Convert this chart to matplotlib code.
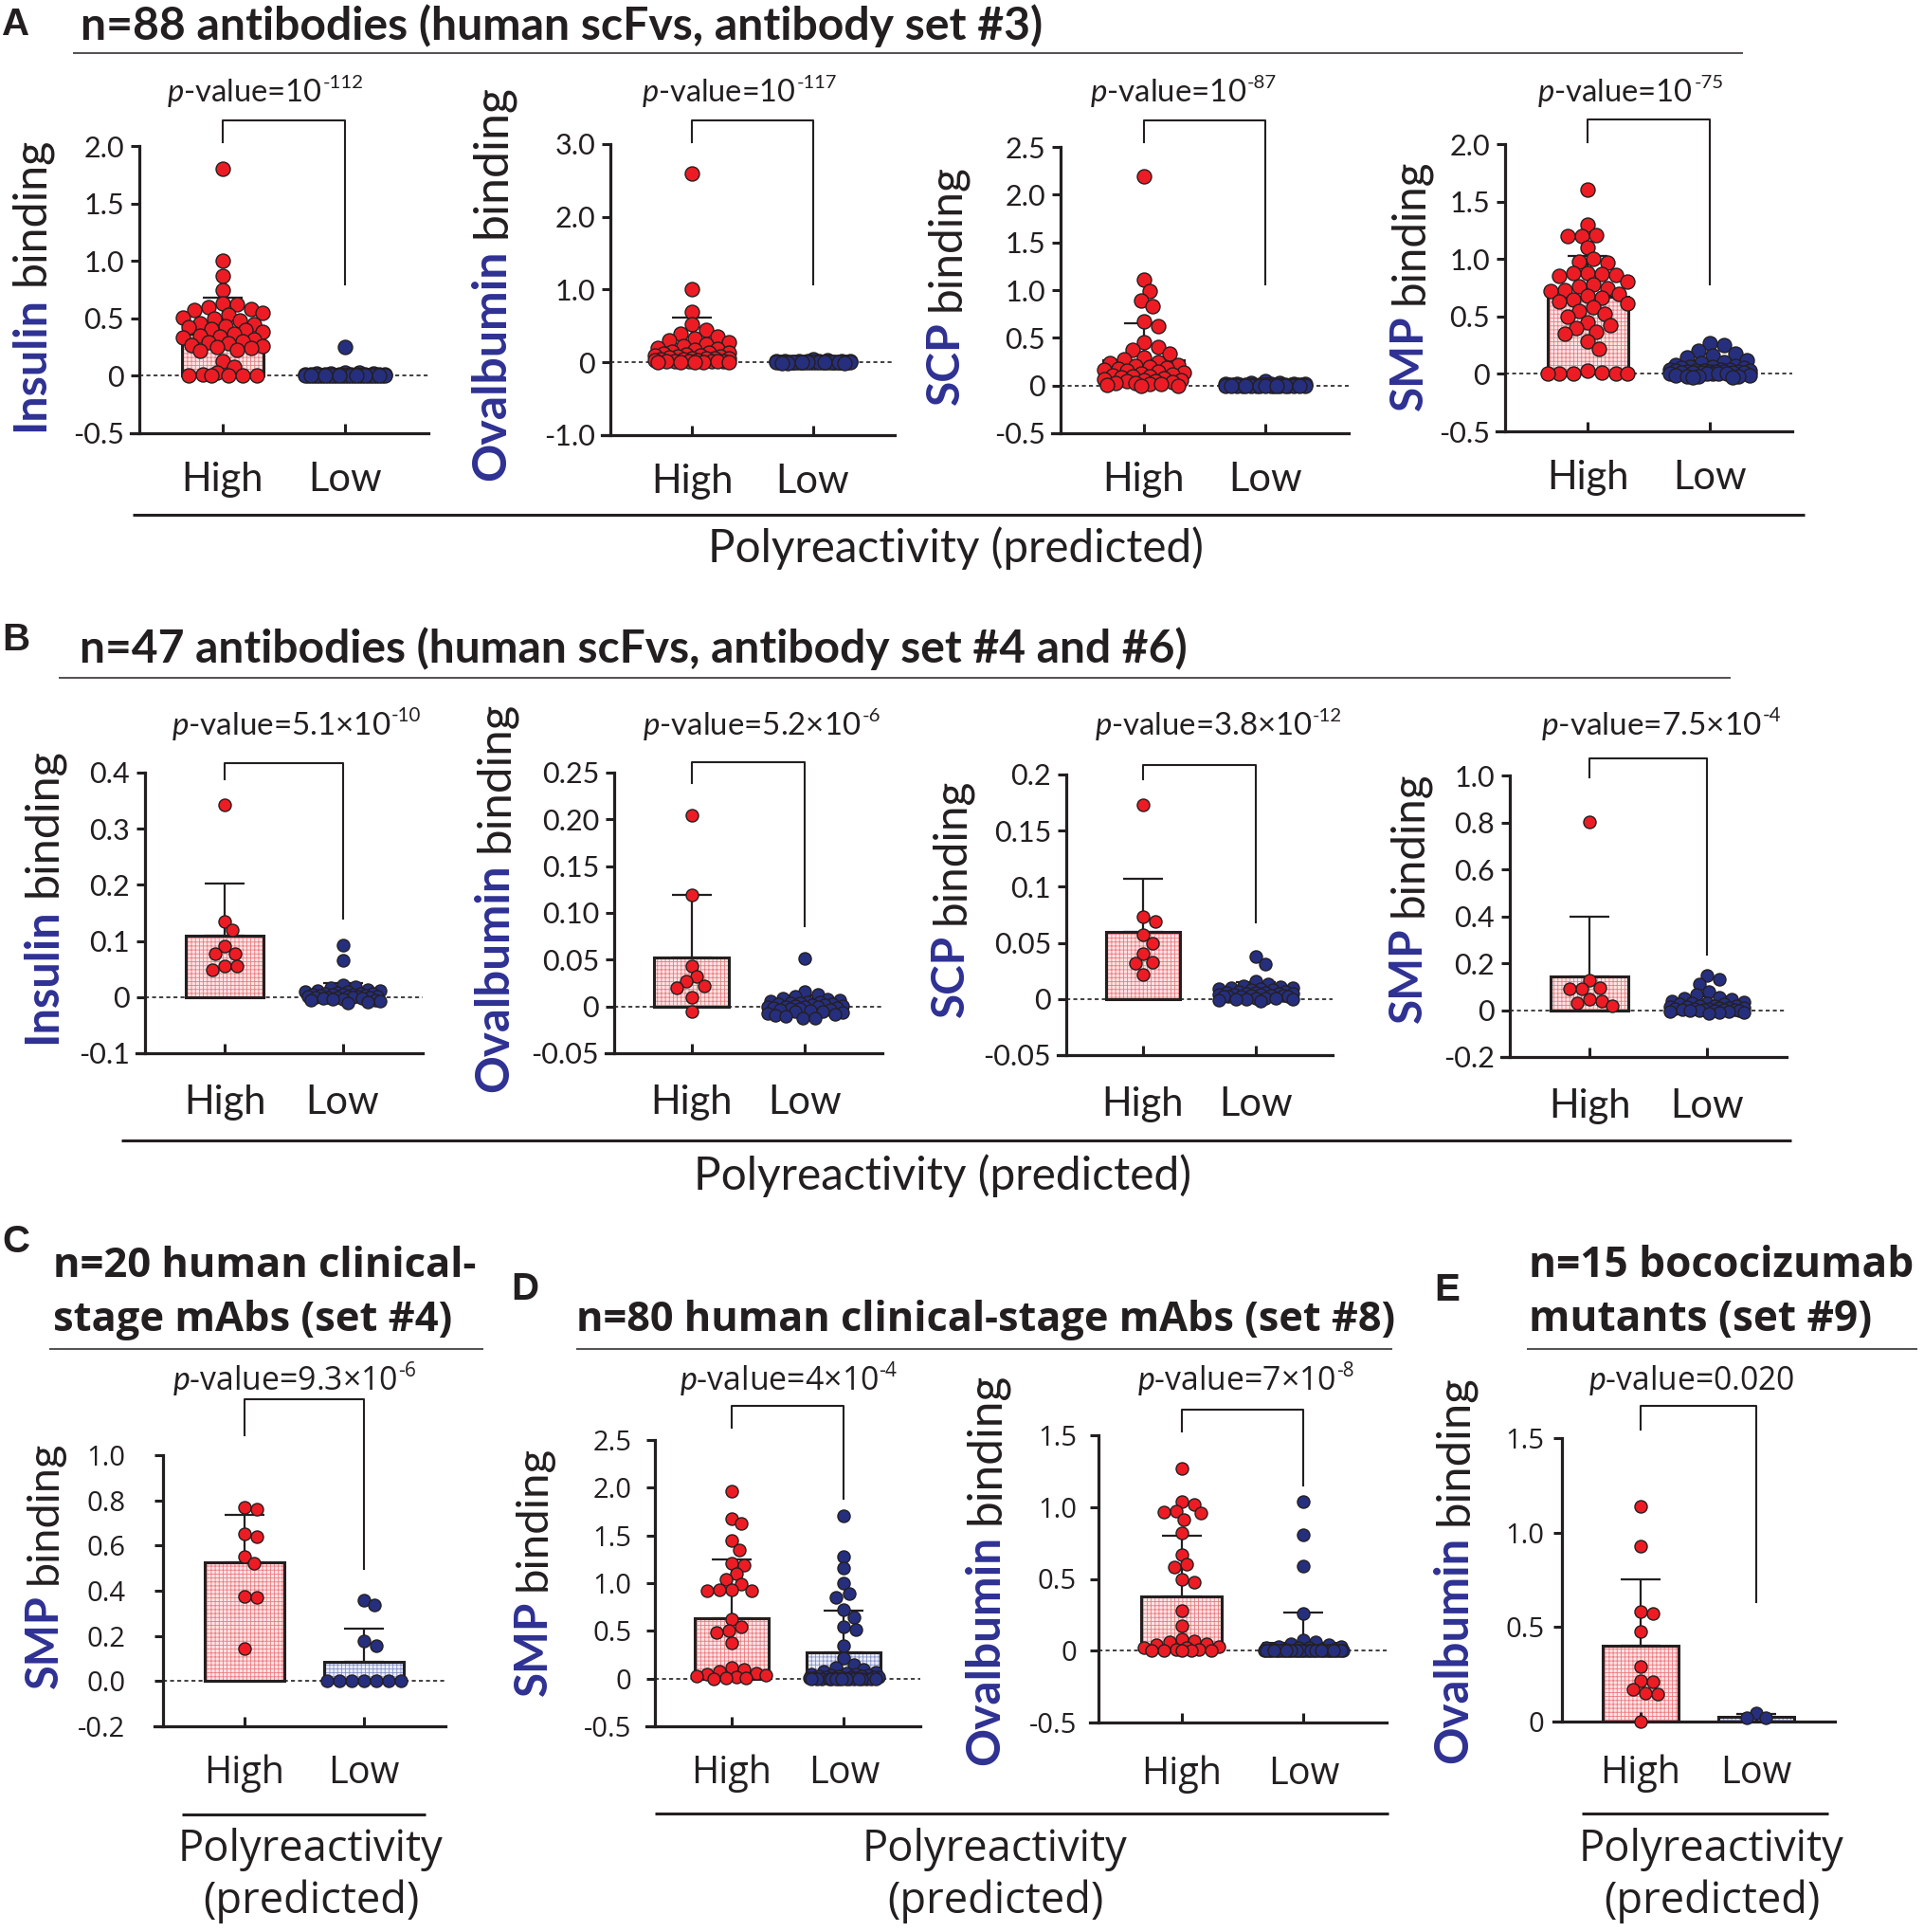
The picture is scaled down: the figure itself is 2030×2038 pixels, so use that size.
import numpy as np
import matplotlib
matplotlib.use("Agg")
import matplotlib.pyplot as plt
from matplotlib.lines import Line2D

W, H = 2030, 2038
DARK = '#231F20'
RED = '#ED1C24'
NAVY_PT = '#262F7E'
NAVY_TXT = '#2E3192'
PINK, PINK_H = '#FDE4E5', '#EC7A80'
LAV, LAV_H = '#ECEEF8', '#8591C8'

plt.rcParams['font.family'] = ['Lato', 'DejaVu Sans']
plt.rcParams['mathtext.fontset'] = 'custom'
plt.rcParams['mathtext.rm'] = 'Lato'
plt.rcParams['mathtext.it'] = 'Lato:italic'
plt.rcParams['hatch.linewidth'] = 0.6

groups = ['High', 'Low']

# ---------------- A: set #3 (n=88) ----------------
a1_high = [1.80, 1.00, 0.87, 0.75, 0.63, 0.62, 0.60, 0.58, 0.57, 0.55, 0.53, 0.51, 0.50, 0.48, 0.46,
           0.45, 0.43, 0.42, 0.41, 0.40, 0.38, 0.37, 0.35, 0.34, 0.33, 0.32, 0.30, 0.29, 0.28, 0.27,
           0.26, 0.25, 0.24, 0.23, 0.22, 0.13, 0.08, 0.03, 0.01, 0.0, 0.0, 0.0, 0.0, 0.0]
a1_low = [0.25, 0.03, 0.025, 0.02, 0.02, 0.018, 0.015, 0.015, 0.012, 0.012, 0.01, 0.01, 0.01, 0.008,
          0.008, 0.007, 0.006, 0.006, 0.005, 0.005, 0.004, 0.004, 0.004, 0.003, 0.003, 0.003, 0.002,
          0.002, 0.002, 0.002, 0.001, 0.001, 0.001, 0.001, 0.0, 0.0, 0.0, 0.0, 0.0, 0.0, 0.0, 0.0, 0.0, 0.0]
a1_mean, a1_sd = [0.37, 0.01], [0.31, 0.04]

a2_high = [2.60, 1.00, 0.70, 0.52, 0.45, 0.40, 0.36, 0.33, 0.30, 0.28, 0.25, 0.22, 0.20, 0.18, 0.17,
           0.15, 0.14, 0.13, 0.12, 0.11, 0.10, 0.09, 0.08, 0.08, 0.07, 0.06, 0.06, 0.05, 0.05, 0.04,
           0.04, 0.03, 0.03, 0.02, 0.02, 0.02, 0.01, 0.01, 0.01, 0.0, 0.0, 0.0, 0.0, 0.0]
a2_low = [0.04, 0.03, 0.02, 0.02, 0.015, 0.012, 0.01, 0.01, 0.01, 0.008, 0.008, 0.006, 0.006, 0.005,
          0.005, 0.004, 0.004, 0.003, 0.003, 0.003, 0.002, 0.002, 0.002, 0.001, 0.001, 0.001, 0.0, 0.0,
          0.0, 0.0, 0.0, 0.0, 0.0, 0.0, 0.0, -0.001, -0.001, -0.002, -0.002, -0.003, -0.003, -0.004,
          -0.005, -0.006]
a2_mean, a2_sd = [0.21, 0.005], [0.41, 0.01]

a3_high = [2.19, 1.11, 0.99, 0.89, 0.83, 0.67, 0.62, 0.45, 0.40, 0.37, 0.33, 0.29, 0.27, 0.25, 0.24,
           0.22, 0.21, 0.20, 0.19, 0.18, 0.17, 0.16, 0.15, 0.14, 0.13, 0.12, 0.11, 0.10, 0.10, 0.09,
           0.08, 0.07, 0.06, 0.06, 0.05, 0.05, 0.04, 0.03, 0.03, 0.02, 0.02, 0.01, 0.0, 0.0]
a3_low = [0.05, 0.03, 0.025, 0.02, 0.02, 0.015, 0.015, 0.012, 0.01, 0.01, 0.01, 0.008, 0.008, 0.006,
          0.006, 0.005, 0.005, 0.005, 0.004, 0.004, 0.003, 0.003, 0.003, 0.002, 0.002, 0.002, 0.001,
          0.001, 0.001, 0.0, 0.0, 0.0, 0.0, 0.0, 0.0, 0.0, 0.0, -0.001, -0.002, -0.003, -0.004,
          -0.005, -0.006, -0.008]
a3_mean, a3_sd = [0.26, 0.006], [0.39, 0.012]

a4_high = [1.60, 1.30, 1.21, 1.20, 1.20, 1.10, 1.00, 0.98, 0.97, 0.88, 0.88, 0.87, 0.86, 0.85, 0.80,
           0.78, 0.76, 0.75, 0.73, 0.72, 0.70, 0.68, 0.66, 0.65, 0.63, 0.61, 0.58, 0.55, 0.52, 0.50,
           0.45, 0.42, 0.40, 0.37, 0.35, 0.28, 0.22, 0.03, 0.01, 0.0, 0.0, 0.0, 0.0, 0.0]
a4_low = [0.27, 0.25, 0.20, 0.18, 0.16, 0.14, 0.12, 0.10, 0.09, 0.08, 0.07, 0.06, 0.06, 0.05, 0.05,
          0.04, 0.04, 0.04, 0.03, 0.03, 0.03, 0.03, 0.02, 0.02, 0.02, 0.02, 0.02, 0.01, 0.01, 0.01,
          0.01, 0.01, 0.0, 0.0, 0.0, 0.0, 0.0, -0.01, -0.01, -0.02, -0.02, -0.02, -0.03, -0.03]
a4_mean, a4_sd = [0.67, 0.05], [0.36, 0.07]

# ---------------- B: set #4 and #6 (n=47) ----------------
b1_high = [0.343, 0.134, 0.119, 0.091, 0.078, 0.078, 0.055, 0.055, 0.048]
b1_low = [0.092, 0.065, 0.022, 0.018, 0.016, 0.014, 0.012, 0.011, 0.010, 0.009, 0.008, 0.007, 0.006,
          0.006, 0.005, 0.005, 0.004, 0.004, 0.003, 0.003, 0.002, 0.002, 0.001, 0.001, 0.0, 0.0, 0.0,
          0.0, -0.001, -0.002, -0.002, -0.003, -0.004, -0.005, -0.006, -0.007, -0.008, -0.010]
b1_mean, b1_sd = [0.109, 0.009], [0.094, 0.016]

b2_high = [0.204, 0.119, 0.043, 0.032, 0.027, 0.022, 0.020, 0.0095, -0.005]
b2_low = [0.051, 0.016, 0.013, 0.011, 0.009, 0.008, 0.007, 0.006, 0.005, 0.005, 0.004, 0.004, 0.003,
          0.003, 0.002, 0.002, 0.001, 0.001, 0.0, 0.0, 0.0, 0.0, -0.001, -0.001, -0.002, -0.002,
          -0.003, -0.003, -0.004, -0.005, -0.005, -0.006, -0.007, -0.008, -0.009, -0.010, -0.012, -0.013]
b2_mean, b2_sd = [0.052, 0.002], [0.067, 0.01]

b3_high = [0.173, 0.073, 0.069, 0.057, 0.050, 0.040, 0.033, 0.032, 0.022]
b3_low = [0.038, 0.031, 0.016, 0.013, 0.012, 0.011, 0.010, 0.010, 0.009, 0.009, 0.008, 0.008, 0.007,
          0.007, 0.006, 0.006, 0.006, 0.005, 0.005, 0.005, 0.004, 0.004, 0.004, 0.003, 0.003, 0.003,
          0.002, 0.002, 0.002, 0.002, 0.001, 0.001, 0.001, 0.0, 0.0, 0.0, -0.001, -0.002]
b3_mean, b3_sd = [0.060, 0.007], [0.047, 0.008]

b4_high = [0.803, 0.129, 0.096, 0.092, 0.090, 0.046, 0.040, 0.030, 0.017]
b4_low = [0.149, 0.130, 0.112, 0.080, 0.065, 0.055, 0.050, 0.045, 0.040, 0.035, 0.030, 0.030, 0.025,
          0.025, 0.020, 0.020, 0.018, 0.015, 0.015, 0.012, 0.010, 0.010, 0.008, 0.006, 0.005, 0.004,
          0.003, 0.002, 0.001, 0.0, 0.0, -0.002, -0.004, -0.006, -0.008, -0.010, -0.012, -0.015]
b4_mean, b4_sd = [0.145, 0.03], [0.253, 0.028]

# ---------------- C: set #4 clinical mAbs (n=20) ----------------
c_high = [0.77, 0.76, 0.65, 0.64, 0.55, 0.52, 0.374, 0.37, 0.144]
c_low = [0.36, 0.335, 0.177, 0.157, 0.0, 0.0, 0.0, 0.0, 0.0, 0.0, 0.0]
c_mean, c_sd = [0.524, 0.085], [0.21, 0.147]

# ---------------- D: set #8 clinical mAbs (n=80) ----------------
d1_high = [1.96, 1.68, 1.63, 1.45, 1.35, 1.21, 1.19, 1.10, 1.04, 0.99, 0.93, 0.93, 0.92, 0.92, 0.62,
           0.54, 0.50, 0.48, 0.37, 0.12, 0.10, 0.08, 0.06, 0.05, 0.04, 0.03, 0.02, 0.01, 0.01, 0.0]
d1_low = [1.71, 1.28, 1.16, 1.00, 0.89, 0.85, 0.72, 0.64, 0.54, 0.51, 0.34, 0.22, 0.15, 0.12, 0.10,
          0.08, 0.07, 0.06, 0.05, 0.05, 0.04, 0.04, 0.03, 0.03, 0.03, 0.02, 0.02, 0.02, 0.02, 0.01,
          0.01, 0.01, 0.01, 0.01, 0.0, 0.0, 0.0, 0.0, 0.0, 0.0, 0.0, 0.0, 0.0, 0.0, 0.0, 0.0, 0.0,
          0.0, 0.0, 0.0]
d1_mean, d1_sd = [0.63, 0.27], [0.62, 0.44]

d2_high = [1.27, 1.04, 1.02, 0.97, 0.965, 0.96, 0.91, 0.82, 0.67, 0.60, 0.58, 0.50, 0.48, 0.28, 0.17,
           0.08, 0.07, 0.06, 0.05, 0.04, 0.03, 0.02, 0.02, 0.01, 0.01, 0.0, 0.0, 0.0, 0.0, 0.0]
d2_low = [1.04, 0.81, 0.59, 0.26, 0.077, 0.06, 0.05, 0.04, 0.03, 0.03, 0.02, 0.02, 0.02, 0.01, 0.01,
          0.01, 0.01] + [0.0] * 33
d2_mean, d2_sd = [0.38, 0.055], [0.42, 0.21]

# ---------------- E: bococizumab mutants (n=15) ----------------
e_high = [1.14, 0.93, 0.58, 0.57, 0.475, 0.29, 0.215, 0.21, 0.17, 0.15, 0.145, 0.0]
e_low = [0.047, 0.022, 0.022]
e_mean, e_sd = [0.40, 0.027], [0.355, 0.013]

# tick values / labels
a1_ticks, a1_tl = [-0.5, 0, 0.5, 1.0, 1.5, 2.0], ['-0.5', '0', '0.5', '1.0', '1.5', '2.0']
a2_ticks, a2_tl = [-1, 0, 1, 2, 3], ['-1.0', '0', '1.0', '2.0', '3.0']
a3_ticks, a3_tl = [-0.5, 0, 0.5, 1, 1.5, 2, 2.5], ['-0.5', '0', '0.5', '1.0', '1.5', '2.0', '2.5']
a4_ticks, a4_tl = a1_ticks, a1_tl
b1_ticks, b1_tl = [-0.1, 0, 0.1, 0.2, 0.3, 0.4], ['-0.1', '0', '0.1', '0.2', '0.3', '0.4']
b2_ticks, b2_tl = [-0.05, 0, 0.05, 0.1, 0.15, 0.2, 0.25], ['-0.05', '0', '0.05', '0.10', '0.15', '0.20', '0.25']
b3_ticks, b3_tl = [-0.05, 0, 0.05, 0.1, 0.15, 0.2], ['-0.05', '0', '0.05', '0.1', '0.15', '0.2']
b4_ticks, b4_tl = [-0.2, 0, 0.2, 0.4, 0.6, 0.8, 1.0], ['-0.2', '0', '0.2', '0.4', '0.6', '0.8', '1.0']
c_ticks, c_tl = [-0.2, 0, 0.2, 0.4, 0.6, 0.8, 1.0], ['-0.2', '0.0', '0.2', '0.4', '0.6', '0.8', '1.0']
d1_ticks, d1_tl = a3_ticks, a3_tl
d2_ticks, d2_tl = [-0.5, 0, 0.5, 1, 1.5], ['-0.5', '0', '0.5', '1.0', '1.5']
e_ticks, e_tl = [0, 0.5, 1, 1.5], ['0', '0.5', '1.0', '1.5']

fig = plt.figure(figsize=(W / 100, H / 100), dpi=100)
fig.patch.set_facecolor('white')
renderer = fig.canvas.get_renderer()


def fy(y):
    return 1 - y / H


def hline(x0, x1, y, lw):
    fig.add_artist(Line2D([x0 / W, x1 / W], [fy(y), fy(y)], transform=fig.transFigure,
                          color=DARK, lw=lw, solid_capstyle='butt'))


def fit(t, target, vertical=False):
    for _ in range(3):
        bb = t.get_window_extent(renderer)
        cur = bb.height if vertical else bb.width
        t.set_fontsize(t.get_fontsize() * target / cur)
    return t.get_fontsize()


def swarm(ax, vals, center, diam, half_w):
    vals = np.asarray(vals, float)
    p0 = ax.transData.transform((0, 0))
    sx = ax.transData.transform((1, 0))[0] - p0[0]
    sy = ax.transData.transform((0, 1))[1] - p0[1]
    ypx = vals * sy
    step = diam * 0.2
    nmax = int(half_w * sx / step)
    cands = [0.0]
    for k in range(1, nmax + 1):
        cands += [k * step, -k * step]
    cands = np.array(cands)
    px, py = [], []
    off = np.zeros(len(vals))
    for i in np.argsort(-vals, kind='stable'):
        if px:
            d = np.sqrt((cands[:, None] - np.array(px)[None, :]) ** 2 +
                        (ypx[i] - np.array(py)[None, :]) ** 2).min(axis=1)
            ok = np.where(d >= 0.88 * diam)[0]
            j = ok[0] if len(ok) else int(np.argmax(d))
        else:
            j = 0
        px.append(cands[j])
        py.append(ypx[i])
        off[i] = cands[j] / sx
    return center + off


def two_tone_label(xc, yc, length, word, rest):
    kw = dict(rotation=90, rotation_mode='anchor', ha='left', va='center', family='Lato', fontsize=34)
    t1 = fig.text(0, 0, word, fontweight='bold', color=NAVY_TXT, **kw)
    t2 = fig.text(0, 0, rest, color=DARK, **kw)
    for _ in range(3):
        fs = t1.get_fontsize()
        gap = 0.24 * fs * 100 / 72
        total = t1.get_window_extent(renderer).height + gap + t2.get_window_extent(renderer).height
        fs *= length / total
        t1.set_fontsize(fs)
        t2.set_fontsize(fs)
    fs = t1.get_fontsize()
    gap = 0.24 * fs * 100 / 72
    h1 = t1.get_window_extent(renderer).height
    h2 = t2.get_window_extent(renderer).height
    y0 = yc + (h1 + gap + h2) / 2
    t1.set_position((xc / W, fy(y0)))
    t2.set_position((xc / W, fy(y0 - h1 - gap)))


def pvalue_text(xc, yb, main, sup, width, font):
    t1 = fig.text(0, fy(yb), main, ha='left', va='baseline', family=font, fontsize=22, color=DARK)
    t2 = fig.text(0, fy(yb), sup, ha='left', va='baseline', family=font, fontsize=22 * 0.62, color=DARK)
    for _ in range(3):
        w = t1.get_window_extent(renderer).width + (t2.get_window_extent(renderer).width if sup else 0)
        fs = t1.get_fontsize() * width / w
        t1.set_fontsize(fs)
        t2.set_fontsize(fs * 0.62)
    fs = t1.get_fontsize()
    w1 = t1.get_window_extent(renderer).width
    w2 = t2.get_window_extent(renderer).width if sup else 0
    x0 = xc - (w1 + w2) / 2
    t1.set_x(x0 / W)
    t2.set_position(((x0 + w1 + 1) / W, fy(yb - 0.42 * fs * 100 / 72)))


def panel(box, high, low, mean, sd, ylim, ticks, tl, word, lab, br, pv, font, ms, xpad, ypad,
          tick_fs, cat_fs, zero_line=True):
    l, r, t, b = box
    ax = fig.add_axes([l / W, fy(b), (r - l) / W, (b - t) / H])
    ax.set_xlim(-0.68, 1.68)
    ax.set_ylim(*ylim)
    ax.patch.set_visible(False)
    xs = np.arange(2)
    if zero_line:
        ax.axhline(0, color=DARK, lw=1.2, ls=(0, (2.5, 2.0)), zorder=0.5)
    for k in range(2):
        ax.bar(xs[k], mean[k], width=0.66, color=[PINK, LAV][k], edgecolor=[PINK_H, LAV_H][k],
               hatch='++++', linewidth=0, zorder=1)
    ax.bar(xs, mean, width=0.66, fill=False, edgecolor=DARK, linewidth=2.2, zorder=1.5)
    ax.errorbar(xs, mean, yerr=[np.zeros(2), sd], fmt='none', ecolor=DARK, elinewidth=1.6,
                capsize=15, capthick=1.6, zorder=2)
    diam = ms * 100 / 72
    for k, vals in enumerate([high, low]):
        xk = swarm(ax, vals, k, diam, 0.33)
        ax.scatter(xk, vals, s=ms ** 2, facecolors=[RED, NAVY_PT][k], edgecolors=DARK,
                   linewidths=1.0, zorder=3, clip_on=False)

    for s in ('top', 'right'):
        ax.spines[s].set_visible(False)
    for s in ('left', 'bottom'):
        ax.spines[s].set_linewidth(2.3)
        ax.spines[s].set_color(DARK)
    ext = 6.5 * 100 / 72 / ((r - l) / 2.36)
    ax.spines['bottom'].set_bounds(-0.68 - ext, 1.68)
    ax.set_yticks(ticks)
    ax.set_yticklabels(tl, fontsize=tick_fs, family=font, color=DARK)
    ax.tick_params(axis='y', direction='out', length=6.5, width=2.2, pad=ypad, color=DARK)
    ax.set_xticks(xs)
    ax.set_xticklabels(groups, fontsize=cat_fs, family=font, color=DARK)
    ax.tick_params(axis='x', direction='in', length=7.5, width=2.2, pad=xpad, color=DARK)

    # significance bracket
    X0 = ax.transData.transform((0, 0))[0] / W
    X1 = ax.transData.transform((1, 0))[0] / W
    top, lb, rb = br
    fig.add_artist(Line2D([X0, X0, X1, X1], [fy(lb), fy(top), fy(top), fy(rb)],
                          transform=fig.transFigure, color=DARK, lw=1.5))
    main, sup, xc, yb, wt = pv
    pvalue_text(xc, yb, main, sup, wt, font)
    two_tone_label(lab[0], lab[1], lab[2], word, 'binding')
    return ax


def pv(mant, expo, xc, yb, wt):
    if expo is None:
        return (r'$\mathit{p}$-value=' + mant, '', xc, yb, wt)
    return (r'$\mathit{p}$-value=' + mant + '10', expo, xc, yb, wt)


LA, OS = 'Lato', 'Open Sans'
specs = [
    ((147, 452, 154, 457), a1_high, a1_low, a1_mean, a1_sd, (-0.5, 2.0), a1_ticks, a1_tl, 'Insulin',
     (32, 300, 310), (127, 150, 300), pv('', '-112', 279, 107, 207), LA, 10.8, 21.5, 5),
    ((644, 944, 152, 459), a2_high, a2_low, a2_mean, a2_sd, (-1.0, 3.0), a2_ticks, a2_tl, 'Ovalbumin',
     (519, 298, 417), (127, 150, 300), pv('', '-117', 780, 107, 205), LA, 10.8, 21.5, 5),
    ((1119, 1423, 155, 457), a3_high, a3_low, a3_mean, a3_sd, (-0.5, 2.5), a3_ticks, a3_tl, 'SCP',
     (998, 300, 254), (127, 150, 300), pv('', '-87', 1248, 107, 196), LA, 10.8, 21.5, 5),
    ((1588, 1891, 152, 455), a4_high, a4_low, a4_mean, a4_sd, (-0.5, 2.0), a4_ticks, a4_tl, 'SMP',
     (1487, 300, 266), (126, 150, 300), pv('', '-75', 1720, 107, 195), LA, 10.8, 21.5, 5),
    ((153, 446, 815, 1111), b1_high, b1_low, b1_mean, b1_sd, (-0.1, 0.4), b1_ticks, b1_tl, 'Insulin',
     (45, 945, 312), (805, 822, 969), pv('5.1×', '-10', 312, 775, 263), LA, 9.4, 23.5, 5),
    ((648, 931, 815, 1111), b2_high, b2_low, b2_mean, b2_sd, (-0.05, 0.25), b2_ticks, b2_tl, 'Ovalbumin',
     (522, 946, 412), (804, 826, 977), pv('5.2×', '-6', 803, 775, 250), LA, 9.4, 23.5, 5),
    ((1125, 1406, 817, 1113), b3_high, b3_low, b3_mean, b3_sd, (-0.05, 0.2), b3_ticks, b3_tl, 'SCP',
     (1003, 947, 253), (807, 822, 973), pv('3.8×', '-12', 1285, 775, 261), LA, 9.4, 23.5, 5),
    ((1593, 1885, 818, 1115), b4_high, b4_low, b4_mean, b4_sd, (-0.2, 1.0), b4_ticks, b4_tl, 'SMP',
     (1486, 946, 266), (800, 820, 1007), pv('7.5×', '-4', 1752, 775, 252), LA, 9.4, 23.5, 5),
    ((172, 470, 1535, 1821), c_high, c_low, c_mean, c_sd, (-0.2, 1.0), c_ticks, c_tl, 'SMP',
     (47, 1650, 261), (1476, 1514, 1655), pv('9.3×', '-6', 310, 1466, 257), OS, 9.4, 21.5, 22),
    ((691, 971, 1519, 1821), d1_high, d1_low, d1_mean, d1_sd, (-0.5, 2.5), d1_ticks, d1_tl, 'SMP',
     (563, 1657, 265), (1483, 1506, 1581), pv('4×', '-4', 831, 1466, 229), OS, 9.4, 21.5, 11),
    ((1159, 1463, 1514, 1817), d2_high, d2_low, d2_mean, d2_sd, (-0.5, 1.5), d2_ticks, d2_tl, 'Ovalbumin',
     (1040, 1655, 414), (1487, 1510, 1567), pv('7×', '-8', 1314, 1466, 228), OS, 9.4, 24.5, 10),
    ((1648, 1936, 1517, 1816), e_high, e_low, e_mean, e_sd, (0, 1.5), e_ticks, e_tl, 'Ovalbumin',
     (1534, 1655, 410), (1483, 1508, 1690), pv('0.020', None, 1785, 1466, 217), OS, 9.4, 25, 7),
]

for sp in specs:
    font = sp[12]
    tick_fs, cat_fs = (22, 30) if font == LA else (21, 28.5)
    panel(*sp, tick_fs=tick_fs, cat_fs=cat_fs, zero_line=(sp[5][0] < 0))

# panel letters
for letter, x, y in [('A', 17, 37), ('B', 17, 686), ('C', 17, 1321), ('D', 554, 1371), ('E', 1527, 1372)]:
    fig.text(x / W, fy(y), letter, ha='center', va='baseline', fontsize=29, fontweight='bold',
             family=['Liberation Sans', 'DejaVu Sans'], color=DARK)

# titles
t = fig.text(85 / W, fy(42), 'n=88 antibodies (human scFvs, antibody set #3)', ha='left', va='baseline',
             fontweight='bold', family=LA, fontsize=30, color=DARK)
fit(t, 1014)
t = fig.text(84 / W, fy(699), 'n=47 antibodies (human scFvs, antibody set #4 and #6)', ha='left',
             va='baseline', fontweight='bold', family=LA, fontsize=30, color=DARK)
fit(t, 1168)
t = fig.text(56 / W, fy(1347), 'n=20 human clinical-', ha='left', va='baseline', fontweight='bold',
             family=OS, fontsize=28, color=DARK)
fs_c = fit(t, 446)
fig.text(56 / W, fy(1404), 'stage mAbs (set #4)', ha='left', va='baseline', fontweight='bold',
         family=OS, fontsize=fs_c, color=DARK)
t = fig.text(608 / W, fy(1404), 'n=80 human clinical-stage mAbs (set #8)', ha='left', va='baseline',
             fontweight='bold', family=OS, fontsize=28, color=DARK)
fit(t, 864)
t = fig.text(1613 / W, fy(1347), 'n=15 bococizumab', ha='left', va='baseline', fontweight='bold',
             family=OS, fontsize=28, color=DARK)
fs_e = fit(t, 405)
fig.text(1613 / W, fy(1404), 'mutants (set #9)', ha='left', va='baseline', fontweight='bold',
         family=OS, fontsize=fs_e, color=DARK)

# title underlines
hline(77, 1839, 56, 1.1)
hline(62, 1826, 715, 1.1)
hline(52, 510, 1423, 1.1)
hline(608, 1469, 1423, 1.1)
hline(1611, 2023, 1423, 1.1)

# polyreactivity group lines and labels
hline(140, 1904, 543, 2.2)
hline(128, 1890, 1203, 2.2)
hline(192, 449, 1914, 2.2)
hline(691, 1465, 1913, 2.2)
hline(1669, 1929, 1913, 2.2)

t = fig.text(1008 / W, fy(593), 'Polyreactivity (predicted)', ha='center', va='baseline', family=LA,
             fontsize=30, color=DARK)
fit(t, 524)
t = fig.text(994 / W, fy(1255), 'Polyreactivity (predicted)', ha='center', va='baseline', family=LA,
             fontsize=30, color=DARK)
fit(t, 525)
t = fig.text(328 / W, fy(1963), 'Polyreactivity', ha='center', va='baseline', family=OS, fontsize=28,
             color=DARK)
fs_p = fit(t, 280)
fig.text(328 / W, fy(2018), '(predicted)', ha='center', va='baseline', family=OS, fontsize=fs_p, color=DARK)
for xc in (1050, 1806):
    fig.text(xc / W, fy(1963), 'Polyreactivity', ha='center', va='baseline', family=OS, fontsize=fs_p,
             color=DARK)
    fig.text(xc / W, fy(2018), '(predicted)', ha='center', va='baseline', family=OS, fontsize=fs_p,
             color=DARK)

fig.savefig('out.png', dpi=100, facecolor='white')
